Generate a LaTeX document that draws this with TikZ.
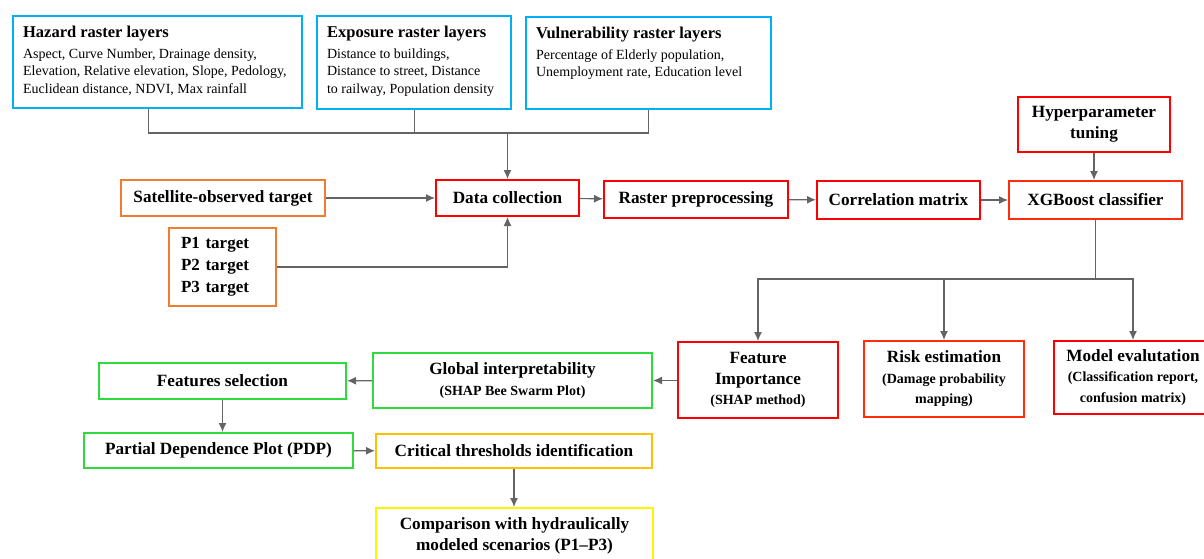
\documentclass[tikz,border=0pt]{standalone}
\usepackage{fontspec}
\setmainfont{Liberation Serif}
\usetikzlibrary{arrows.meta,positioning}

\definecolor{skyblue}{RGB}{0,176,240}
\definecolor{boxred}{RGB}{255,0,0}
\definecolor{redorange}{RGB}{255,45,10}
\definecolor{boxorange}{RGB}{237,125,49}
\definecolor{boxgreen}{RGB}{45,220,60}
\definecolor{amber}{RGB}{255,192,0}
\definecolor{boxyellow}{RGB}{250,245,0}
\definecolor{linegray}{RGB}{100,100,100}

% title + list of layers, top aligned in a fixed box
\newcommand{\layertext}[4]{\parbox[t][#2][t]{#1}{\raggedright{\fontsize{16.5}{19}\selectfont\bfseries #3}\\[3pt] #4}}
\newcommand{\subl}{\fontsize{14}{18}\selectfont}

\begin{document}
\begin{tikzpicture}[x=1pt, y=-1pt, >={Latex[length=9pt,width=8pt]},
    box/.style={draw, line width=2pt, fill=white, align=center, inner sep=1pt,
                font=\bfseries\fontsize{17.2}{20.5}\selectfont},
    layer/.style={draw=skyblue, line width=2.2pt, anchor=north west,
                  inner xsep=10pt, inner ysep=10pt, font=\fontsize{14}{17.5}\selectfont},
    line/.style={draw=linegray, line width=1.2pt}]
    \useasboundingbox (0,0) rectangle (1204,559);
    \clip (0,0) rectangle (1204,559);

    % input layers
    \node[layer] (haz) at (12,15) {\layertext{269pt}{72pt}{Hazard raster layers}{Aspect, Curve Number, Drainage density,\\Elevation, Relative elevation, Slope, Pedology,\\Euclidean distance, NDVI, Max rainfall}};
    \node[layer] (expo) at (316,15) {\layertext{174pt}{73pt}{Exposure raster layers}{Distance to buildings,\\Distance to street, Distance\\to railway, Population density}};
    \node[layer] (vuln) at (525,16) {\layertext{225pt}{72pt}{Vulnerability raster layers}{Percentage of Elderly population,\\Unemployment rate, Education level}};

    % main chain
    \node[box, draw=boxred, minimum width=143pt, minimum height=36pt] (data) at (507.5,198) {Data collection};
    \node[box, draw=boxred, minimum width=184pt, minimum height=37pt] (raster) at (696,199.5) {Raster preprocessing};
    \node[box, draw=boxred, minimum width=163pt, minimum height=38pt] (corr) at (898.5,200) {Correlation matrix};
    \node[box, draw=redorange, minimum width=173pt, minimum height=38pt] (xgb) at (1095.5,200) {XGBoost classifier};
    \node[box, draw=boxred, minimum width=152pt, minimum height=55pt] (hyper) at (1094,124.5) {Hyperparameter\\tuning};

    % targets
    \node[box, draw=boxorange, minimum width=204pt, minimum height=36pt] (sat) at (223,198) {Satellite-observed target};
    \node[box, draw=boxorange, minimum width=107pt, minimum height=78pt, text width=83pt, align=left,
          font=\bfseries\fontsize{17}{22}\selectfont] (ptar) at (222.5,267) {P1 target\\P2 target\\P3 target};

    % outputs of the classifier
    \node[box, draw=boxred, minimum width=160pt, minimum height=76pt] (feat) at (758,380) {Feature\\Importance\\{\subl (SHAP method)}};
    \node[box, draw=redorange, minimum width=160pt, minimum height=76pt] (risk) at (944,379) {Risk estimation\\{\subl (Damage probability}\\{\subl mapping)}};
    \node[box, draw=boxred, minimum width=158pt, minimum height=73pt] (model) at (1133,377.5) {Model evalutation\\{\subl (Classification report,}\\{\subl confusion matrix)}};

    % interpretation
    \node[box, draw=boxgreen, minimum width=279pt, minimum height=55pt] (glob) at (512.5,380.5) {Global interpretability\\{\subl (SHAP Bee Swarm Plot)}};
    \node[box, draw=boxgreen, minimum width=247pt, minimum height=36pt] (fsel) at (222.5,381) {Features selection};
    \node[box, draw=boxgreen, minimum width=269pt, minimum height=35pt] (pdp) at (218.5,450.5) {Partial Dependence Plot (PDP)};
    \node[box, draw=amber, minimum width=276pt, minimum height=34pt] (crit) at (514,451) {Critical thresholds identification};
    \node[box, draw=boxyellow, minimum width=277pt, minimum height=56pt] (comp) at (514.5,536) {Comparison with hydraulically\\modeled scenarios (P1--P3)};

    % connectors
    \coordinate (hub) at (507.5,133);
    \coordinate (split) at (1095.5,279);
    \draw[line] ([xshift=-9.5pt]haz.south) |- (vuln.south |- hub) -- (vuln.south);
    \draw[line] (expo.south) -- (expo.south |- hub);
    \draw[line,->] (hub) -- (data.north);
    \draw[line,->] (sat) -- (data);
    \draw[line,->] (ptar.east) -| (data.south);
    \draw[line,->] (data) -- (raster);
    \draw[line,->] (raster) -- (corr);
    \draw[line,->] (corr) -- (xgb);
    \draw[line,->] (hyper.south) -- (hyper.south |- xgb.north);
    \draw[line] (xgb.south) -- (split);
    \draw[line,->] (split) -| (feat.north);
    \draw[line,->] (split) -| (model.north);
    \draw[line,->] (risk.north |- split) -- (risk.north);
    \draw[line,->] (feat.west |- glob.east) -- (glob.east);
    \draw[line,->] (glob) -- (fsel);
    \draw[line,->] (fsel.south) -- (fsel.south |- pdp.north);
    \draw[line,->] (pdp) -- (crit);
    \draw[line,->] (crit.south) -- (crit.south |- comp.north);
\end{tikzpicture}
\end{document}
